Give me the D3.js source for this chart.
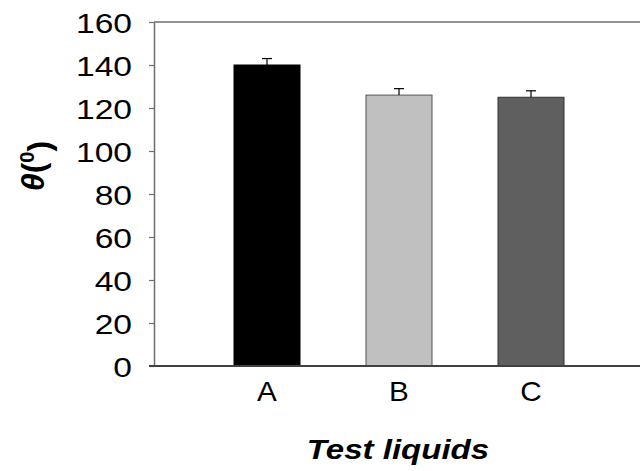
<!DOCTYPE html>
<html>
<head>
<meta charset="utf-8">
<script src="https://cdn.jsdelivr.net/npm/d3@7"></script>
<style>
  body { margin: 0; background: #fff; }
  text { font-family: "Liberation Sans", Arial, sans-serif; fill: #000; }
</style>
</head>
<body>
<div id="chart"></div>
<script>
// data
const liquids = ["A", "B", "C"];
const angles = [140, 126, 125];
const errors = [3, 3, 3];
const yTicks = [0, 20, 40, 60, 80, 100, 120, 140, 160];

const barColors = ["#000000", "#c0c0c0", "#5f5f5f"];
const barStrokes = ["#000000", "#555555", "#333333"];

const WIDTH = 640;
const HEIGHT = 471;
const LEFT = 154;
const TOP = 22;
const BOTTOM = 366;
const BAR_WIDTH = 66;
const STRETCH = 1.2; // text in the picture is a bit wider than normal

const svg = d3.select("#chart")
    .append("svg")
    .attr("width", WIDTH)
    .attr("height", HEIGHT);

const y = d3.scaleLinear()
    .domain([0, 160])
    .range([BOTTOM, TOP]);

const x = d3.scalePoint()
    .domain(liquids)
    .range([267, 531]);

// frame lines: top and bottom run to the edge, no right side
svg.append("line")
    .attr("x1", LEFT).attr("x2", WIDTH)
    .attr("y1", TOP).attr("y2", TOP)
    .attr("stroke", "#6e6e6e").attr("stroke-width", 1.5);

// bars
const data = liquids.map((d, i) => ({ name: d, value: angles[i], err: errors[i], i }));

svg.append("g")
    .selectAll("rect")
    .data(data)
    .enter()
    .append("rect")
    .attr("x", d => x(d.name) - BAR_WIDTH / 2)
    .attr("y", d => y(d.value))
    .attr("width", BAR_WIDTH)
    .attr("height", d => BOTTOM - y(d.value))
    .attr("fill", d => barColors[d.i])
    .attr("stroke", d => barStrokes[d.i])
    .attr("stroke-width", 1);

// error bars (upper half only)
const errG = svg.append("g")
    .attr("stroke", "#000")
    .attr("stroke-width", 1.2);

errG.selectAll("line.stem")
    .data(data)
    .enter()
    .append("line")
    .attr("class", "stem")
    .attr("x1", d => x(d.name)).attr("x2", d => x(d.name))
    .attr("y1", d => y(d.value)).attr("y2", d => y(d.value + d.err));

errG.selectAll("line.cap")
    .data(data)
    .enter()
    .append("line")
    .attr("class", "cap")
    .attr("x1", d => x(d.name) - 5).attr("x2", d => x(d.name) + 5)
    .attr("y1", d => y(d.value + d.err)).attr("y2", d => y(d.value + d.err));

// y axis
const yAxis = d3.axisLeft(y)
    .tickValues(yTicks)
    .tickSize(5)
    .tickSizeOuter(0)
    .tickFormat(d3.format("d"));

const yg = svg.append("g")
    .attr("transform", `translate(${LEFT},0)`)
    .call(yAxis);

yg.select(".domain").attr("stroke", "#6e6e6e").attr("stroke-width", 1.5);
yg.selectAll(".tick line").attr("stroke", "#6e6e6e").attr("stroke-width", 1.2);
yg.selectAll(".tick text")
    .attr("x", 0)
    .attr("dy", "0.36em")
    .attr("transform", `translate(-22,0) scale(${STRETCH},1)`)
    .style("font-size", "28px")
    .style("font-family", "'Liberation Sans', Arial, sans-serif")
    .attr("fill", "#000");

// bottom line
svg.append("line")
    .attr("x1", LEFT - 5).attr("x2", WIDTH)
    .attr("y1", BOTTOM).attr("y2", BOTTOM)
    .attr("stroke", "#404040").attr("stroke-width", 2);

// category labels
svg.append("g")
    .selectAll("text")
    .data(liquids)
    .enter()
    .append("text")
    .attr("transform", d => `translate(${x(d)},401) scale(1.1,1)`)
    .attr("text-anchor", "middle")
    .style("font-size", "27px")
    .text(d => d);

// x title
svg.append("text")
    .attr("transform", `translate(398,459) scale(1.18,1)`)
    .attr("text-anchor", "middle")
    .style("font-size", "28px")
    .style("font-weight", "bold")
    .style("font-style", "italic")
    .text("Test liquids");

// y title: θ(⁰)
const yt = svg.append("text")
    .attr("transform", `translate(44,166) rotate(-90)`)
    .attr("text-anchor", "middle")
    .style("font-size", "32px")
    .style("font-weight", "bold");

yt.append("tspan").style("font-style", "italic").text("θ");
yt.append("tspan").text("(");
yt.append("tspan").attr("dy", "-0.5em").style("font-size", "20px").text("0");
yt.append("tspan").attr("dy", "0.5em").text(")");
</script>
</body>
</html>
